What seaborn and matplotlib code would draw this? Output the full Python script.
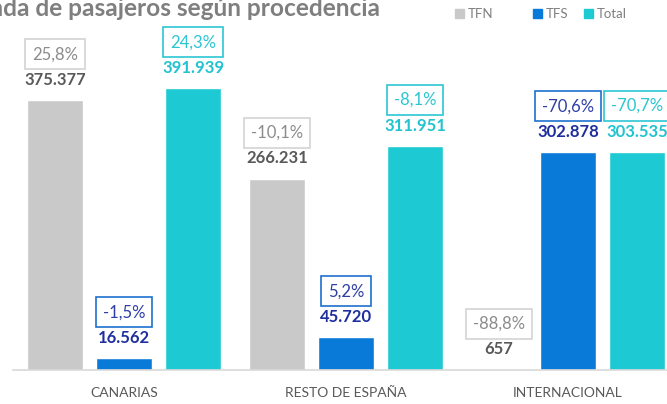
import numpy as np
import pandas as pd
import matplotlib.pyplot as plt
import seaborn as sns

sns.set_style("white")
plt.rcParams['font.family'] = ['Lato', 'DejaVu Sans']

# data
categories = ["CANARIAS", "RESTO DE ESPAÑA", "INTERNACIONAL"]
series = ["TFN", "TFS", "Total"]
tfn = [375377, 266231, 657]
tfs = [16562, 45720, 302878]
total = [391939, 311951, 303535]
tfn_var = ["25,8%", "-10,1%", "-88,8%"]
tfs_var = ["-1,5%", "5,2%", "-70,6%"]
total_var = ["24,3%", "-8,1%", "-70,7%"]

bar_colors = {"TFN": "#C9C9C9", "TFS": "#0A7AD9", "Total": "#1DC9D3"}
value_colors = {"TFN": "#595959", "TFS": "#1F2E9E", "Total": "#22C3D0"}
pct_text = {"TFN": "#8C8C8C", "TFS": "#2E3FA5", "Total": "#2BC6D2"}
pct_edge = {"TFN": "#D3D3D3", "TFS": "#1E6FCF", "Total": "#2BC6D2"}

df = pd.DataFrame({
    "Procedencia": categories * 3,
    "Serie": [s for s in series for _ in categories],
    "Pasajeros": tfn + tfs + total,
})
variations = {"TFN": tfn_var, "TFS": tfs_var, "Total": total_var}

fig = plt.figure(figsize=(6.67, 4.04), dpi=100)
ax = fig.add_axes([13 / 667, 34 / 404, 1 - 13 / 667, 1 - 34 / 404])

sns.barplot(data=df, x="Procedencia", y="Pasajeros", hue="Serie",
            hue_order=series, palette=bar_colors, width=0.933, gap=0.19,
            saturation=1, legend=False, ax=ax)

ax.set_xlim(-0.5, 2.446)
ax.set_ylim(0, 514500)

for container, s in zip(ax.containers, series):
    for patch, var in zip(container.patches, variations[s]):
        xc = patch.get_x() + patch.get_width() / 2
        h = patch.get_height()
        ax.annotate(f"{int(h):,}".replace(",", "."), (xc, h), xytext=(0, 14.5),
                    textcoords="offset points", ha="center", va="center",
                    fontsize=12, fontweight="bold", color=value_colors[s])
        ax.annotate(var, (xc, h), xytext=(0, 33), textcoords="offset points",
                    ha="center", va="center", fontsize=12, color=pct_text[s],
                    bbox=dict(boxstyle="square,pad=0.42", fc="white",
                              ec=pct_edge[s], lw=1.2))

sns.despine(ax=ax, left=True, top=True, right=True)
ax.spines["bottom"].set_color("#D9D9D9")
ax.spines["bottom"].set_linewidth(1.2)
ax.set_yticks([])
ax.set_xlabel("")
ax.set_ylabel("")
ax.tick_params(axis="x", length=0, labelsize=10, labelcolor="#595959", pad=12)

# title (cropped on the left in the original)
fig.text(380 / 667, 1 - 16 / 404, "Demanda de pasajeros según procedencia",
         ha="right", va="baseline", fontsize=17.6, fontweight="bold", color="#7F7F7F")

# legend entries placed one by one, as in the original
legend_x = {"TFN": 455, "TFS": 533, "Total": 584}
for s in series:
    fig.legend([plt.Rectangle((0, 0), 1, 1, color=bar_colors[s])], [s],
               loc="center left", bbox_to_anchor=(legend_x[s] / 667, 1 - 14 / 404),
               frameon=False, fontsize=9.5, handlelength=0.7, handleheight=0.7,
               handletextpad=0.3, borderpad=0, borderaxespad=0, labelcolor="#7F7F7F")

fig.savefig("out.png", dpi=100)
